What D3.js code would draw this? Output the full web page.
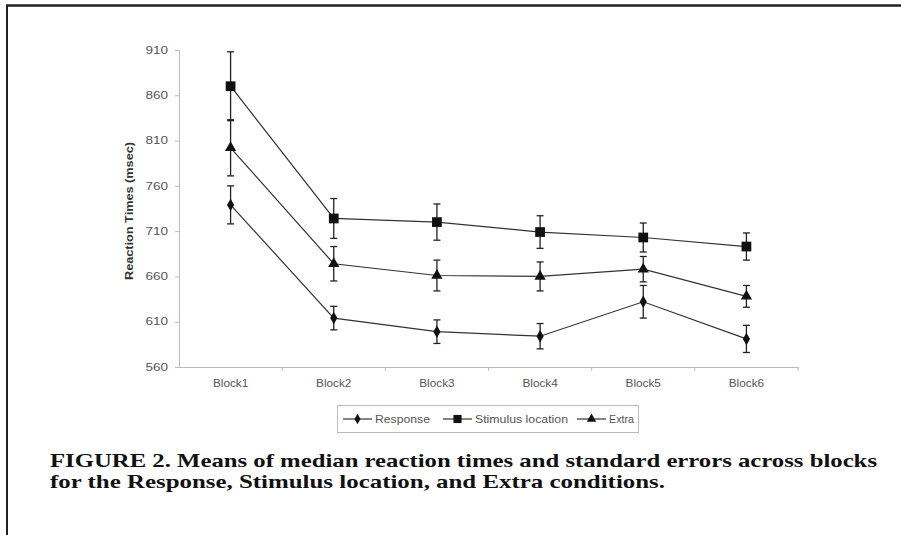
<!DOCTYPE html>
<html><head><meta charset="utf-8">
<script src="https://cdn.jsdelivr.net/npm/d3@7"></script>
<style>body{margin:0;background:#fff}svg{display:block}</style>
</head><body>
<svg id="c" width="901" height="535"></svg>
<script>
const categories = ["Block1","Block2","Block3","Block4","Block5","Block6"];
const responseMeans = [739, 614, 599, 594, 632, 591];
const responseSE    = [21, 13, 13, 14, 18, 15];
const stimulusMeans = [870, 724, 720, 709, 703, 693];
const stimulusSE    = [38, 22, 20, 18, 16, 15];
const extraMeans    = [802, 674, 661, 660, 668, 638];
const extraSE       = [31, 19, 17, 16, 14, 12];
const yTicks = [560, 610, 660, 710, 760, 810, 860, 910];
const seriesNames = ["Response", "Stimulus location", "Extra"];
const captionLines = [
  "FIGURE 2. Means of median reaction times and standard errors across blocks",
  "for the Response, Stimulus location, and Extra conditions."
];

const svg = d3.select("#c");
const sans = "Liberation Sans, Arial, sans-serif";
// stretch text horizontally like the scanned reference
function stretch(sel, f) {
  sel.each(function(){ const L = this.getComputedTextLength(); d3.select(this).attr("textLength", L*f).attr("lengthAdjust","spacingAndGlyphs"); });
}
// page borders
svg.append("line").attr("x1",6).attr("x2",901).attr("y1",5.5).attr("y2",5.5).attr("stroke","#222").attr("stroke-width",2.5);
svg.append("line").attr("x1",7).attr("x2",7).attr("y1",5).attr("y2",535).attr("stroke","#222").attr("stroke-width",2);

const x = d3.scaleBand().domain(categories).range([179, 798]);
const y = d3.scaleLinear().domain([560, 910]).range([367, 50]);
const textCol = "#555";

// Y axis
const ya = svg.append("g").attr("transform","translate(179,0)")
  .call(d3.axisLeft(y).tickValues(yTicks).tickSize(4).tickPadding(7).tickFormat(d3.format("d")));
ya.select(".domain").attr("stroke","#bbb");
ya.selectAll(".tick line").attr("stroke","#bbb");
ya.selectAll("text").attr("font-family",sans).attr("font-size",10).attr("fill",textCol).call(stretch, 1.35);

// X axis
const xa = svg.append("g").attr("transform","translate(0,367)")
  .call(d3.axisBottom(x).tickSize(0).tickPadding(13));
xa.select(".domain").attr("stroke","#bbb");
xa.selectAll("text").attr("font-family",sans).attr("font-size",10.5).attr("fill",textCol).call(stretch, 1.12);
const bounds = categories.slice(1).map(c => x(c)).concat([x.range()[1]]);
svg.append("g").selectAll("line").data(bounds).join("line")
  .attr("x1",d=>d).attr("x2",d=>d).attr("y1",367).attr("y2",371).attr("stroke","#bbb");

// Y label
svg.append("text").attr("transform","translate(133,211) rotate(-90)")
  .attr("text-anchor","middle").attr("font-family",sans)
  .attr("font-weight","bold").attr("font-size",10.5).attr("fill","#333")
  .attr("textLength",138).attr("lengthAdjust","spacingAndGlyphs").text("Reaction Times (msec)");

const series = [
  {name: seriesNames[0], means: responseMeans, se: responseSE, sym: d3.symbolDiamond, size: 45},
  {name: seriesNames[1], means: stimulusMeans, se: stimulusSE, sym: d3.symbolSquare, size: 95},
  {name: seriesNames[2], means: extraMeans, se: extraSE, sym: d3.symbolTriangle, size: 55}
];
const cx = c => x(c) + x.bandwidth()/2;
const line = d3.line().x(d=>cx(d.c)).y(d=>y(d.v));
const g = svg.append("g");
series.forEach(s => {
  const pts = categories.map((c,i)=>({c, v:s.means[i], e:s.se[i]}));
  g.append("path").datum(pts).attr("d",line).attr("fill","none").attr("stroke","#333").attr("stroke-width",1.2);
  const eb = g.append("g").selectAll("g").data(pts).join("g").attr("stroke","#222").attr("stroke-width",1.3);
  eb.append("line").attr("x1",d=>cx(d.c)).attr("x2",d=>cx(d.c)).attr("y1",d=>y(d.v+d.e)).attr("y2",d=>y(d.v-d.e));
  eb.append("line").attr("x1",d=>cx(d.c)-3.5).attr("x2",d=>cx(d.c)+3.5).attr("y1",d=>y(d.v+d.e)).attr("y2",d=>y(d.v+d.e));
  eb.append("line").attr("x1",d=>cx(d.c)-3.5).attr("x2",d=>cx(d.c)+3.5).attr("y1",d=>y(d.v-d.e)).attr("y2",d=>y(d.v-d.e));
  g.append("g").selectAll("path").data(pts).join("path")
    .attr("d", d3.symbol().type(s.sym).size(s.size))
    .attr("transform", d=>`translate(${cx(d.c)},${y(d.v)})`).attr("fill","#111");
});

// Legend
const lg = svg.append("g");
lg.append("rect").attr("x",337.5).attr("y",405.5).attr("width",301).attr("height",27).attr("fill","#fff").attr("stroke","#bbb");
const legX = [343, 443, 577];
const legTextW = [55, 93, 25];
series.forEach((s,i)=>{
  const lx = legX[i];
  lg.append("line").attr("x1",lx).attr("x2",lx+29).attr("y1",419).attr("y2",419).attr("stroke","#333").attr("stroke-width",1.2);
  lg.append("path").attr("d", d3.symbol().type(s.sym).size(s.size*0.7)).attr("transform",`translate(${lx+14.5},419)`).attr("fill","#111");
  lg.append("text").attr("x",lx+32).attr("y",423).attr("font-family",sans)
    .attr("font-size",10.5).attr("fill",textCol)
    .attr("textLength",legTextW[i]).attr("lengthAdjust","spacingAndGlyphs").text(s.name);
});

// Caption
const capEnds = [877, 665];
captionLines.forEach((t,i)=>{
  svg.append("text").attr("x",50).attr("y",467 + i*20.5)
    .attr("font-family","Liberation Serif, Times New Roman, serif").attr("font-weight","bold")
    .attr("font-size",19.5).attr("fill","#111")
    .attr("textLength", capEnds[i]-50).attr("lengthAdjust","spacingAndGlyphs").text(t);
});
</script>
</body></html>
